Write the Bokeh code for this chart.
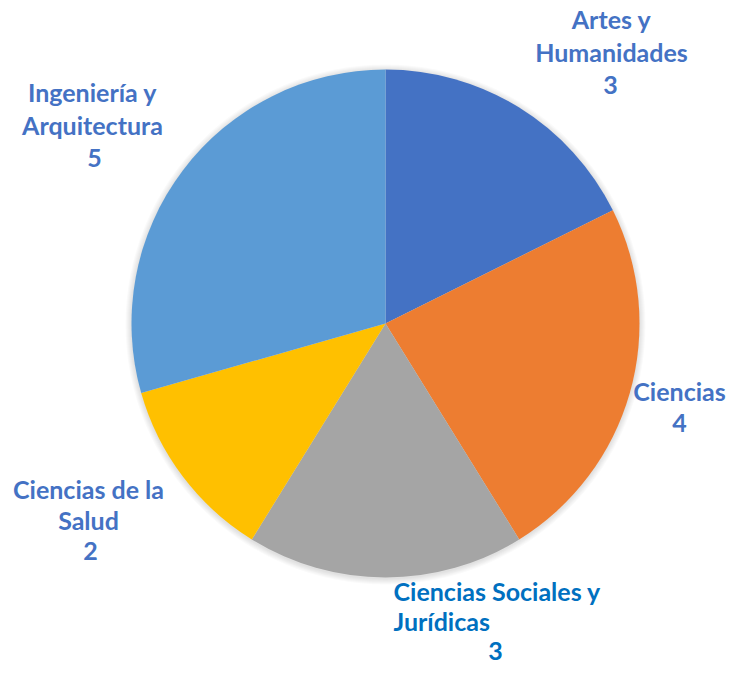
import numpy as np
from bokeh.plotting import figure
from bokeh.models import Range1d, ColumnDataSource
from bokeh.core.properties import value
from bokeh.embed import file_html
from bokeh.resources import INLINE

# ---- data ----
categories = ["Artes y Humanidades", "Ciencias", "Ciencias Sociales y Jurídicas",
              "Ciencias de la Salud", "Ingeniería y Arquitectura"]
counts = [3, 4, 3, 2, 5]
slice_colors = ["#4472C4", "#ED7D31", "#A5A5A5", "#FFC000", "#5B9BD5"]
label_lines = [["Artes y", "Humanidades"], ["Ciencias"], ["Ciencias Sociales y", "Jurídicas"],
               ["Ciencias de la", "Salud"], ["Ingeniería y", "Arquitectura"]]
label_colors = ["#4472C4", "#4472C4", "#0070C0", "#4472C4", "#4472C4"]

# ---- layout (picture pixel coordinates, y downwards) ----
W, H = 726, 663
CX, CY, R = 385, 323, 254
TEXT_SHIFT = -10  # compensate renderer baseline offset
label_layout = [
    dict(x=611, vx=610, align="center", y0=28, step=33),
    dict(x=679, vx=679, align="center", y0=400, step=32),
    dict(x=393, vx=495, align="left", y0=600, step=30),
    dict(x=88, vx=90, align="center", y0=498, step=31),
    dict(x=92, vx=94, align="center", y0=101, step=33),
]
FONT = "Lato"
FSIZE = "25px"

p = figure(width=W, height=H, output_backend="svg", toolbar_location=None,
           x_range=Range1d(0, W), y_range=Range1d(-H, 0),
           min_border=0, outline_line_color=None)
p.axis.visible = False
p.grid.visible = False
p.background_fill_color = "white"

# soft shadow
for dr in range(1, 7):
    p.circle(x=CX, y=-(CY + 1), radius=R + dr, fill_color="black",
             fill_alpha=0.018, line_color=None)

vals = np.array(counts, dtype=float)
frac = vals / vals.sum()
cum_end = np.cumsum(frac)
cum_start = cum_end - frac
start = np.pi / 2 - 2 * np.pi * cum_start
end = np.pi / 2 - 2 * np.pi * cum_end

src = ColumnDataSource(dict(start=start, end=end, color=slice_colors, cat=categories, n=counts))
p.wedge(x=CX, y=-CY, radius=R, start_angle="start", end_angle="end", direction="clock",
        fill_color="color", line_color=None, source=src)

for lines, n, col, lay in zip(label_lines, counts, label_colors, label_layout):
    ys = [-(lay["y0"] + TEXT_SHIFT + i * lay["step"]) for i in range(len(lines))]
    p.text(x=[lay["x"]] * len(lines), y=ys, text=lines, text_font=value(FONT),
           text_font_style="bold", text_font_size=FSIZE, text_align=lay["align"],
           text_baseline="alphabetic", text_color=col)
    vy = -(lay["y0"] + TEXT_SHIFT + len(lines) * lay["step"])
    p.text(x=[lay["vx"]], y=[vy], text=[str(n)], text_font=value(FONT),
           text_font_style="bold", text_font_size=FSIZE, text_align="center",
           text_baseline="alphabetic", text_color=col)

open("out.html", "w").write(file_html(p, INLINE))
